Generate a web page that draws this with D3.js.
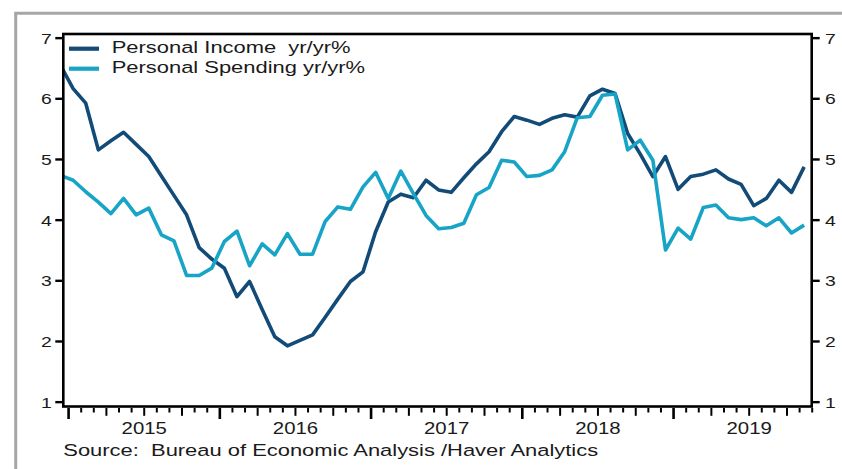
<!DOCTYPE html>
<html>
<head>
<meta charset="utf-8">
<script src="https://cdn.jsdelivr.net/npm/d3@7"></script>
<style>
  html, body { margin: 0; padding: 0; background: #fff; }
  svg { display: block; font-family: "Liberation Sans", Arial, sans-serif; }
  text { white-space: pre; fill: #1a1a1a; }
</style>
</head>
<body>
<svg id="chart" width="842" height="469"></svg>
<script>
// monthly observations, Dec 2014 .. Nov 2019
var months = d3.timeMonth.range(new Date(2014, 11, 1), new Date(2019, 11, 1));

var incomeYoY = [
    6.54, 6.16, 5.92, 5.15, 5.30, 5.44, 5.24, 5.04, 4.72, 4.40, 4.08, 3.54, 3.35,
    3.20, 2.73, 2.98, 2.52, 2.07, 1.92, 2.01, 2.10, 2.39, 2.69, 2.98, 3.14,
    3.80, 4.29, 4.42, 4.36, 4.65, 4.49, 4.45, 4.69, 4.92, 5.12, 5.45, 5.70,
    5.64, 5.57, 5.67, 5.73, 5.69, 6.04, 6.15, 6.08, 5.42, 5.08, 4.71, 5.04,
    4.50, 4.71, 4.75, 4.82, 4.67, 4.58, 4.23, 4.35, 4.65, 4.45, 4.87
];
var spendingYoY = [
    4.73, 4.65, 4.46, 4.29, 4.10, 4.35, 4.08, 4.19, 3.75, 3.65, 3.08, 3.08, 3.20,
    3.64, 3.81, 3.24, 3.60, 3.42, 3.77, 3.43, 3.43, 3.97, 4.21, 4.17, 4.54,
    4.78, 4.35, 4.80, 4.43, 4.07, 3.85, 3.87, 3.94, 4.41, 4.53, 4.98, 4.95,
    4.71, 4.73, 4.82, 5.12, 5.68, 5.70, 6.05, 6.07, 5.15, 5.31, 4.98, 3.50,
    3.86, 3.68, 4.20, 4.24, 4.03, 4.00, 4.03, 3.90, 4.03, 3.78, 3.91
];

var seriesNames = ["Personal Income  yr/yr%", "Personal Spending yr/yr%"];
var seriesColors = ["#124b78", "#17a4c7"];
var yTicks = [1, 2, 3, 4, 5, 6, 7];
var yearLabels = [2015, 2016, 2017, 2018, 2019];

(function() {
    var svg = d3.select("#chart");
    var pLeft = 63.3, pRight = 811.7, pTop = 34, pBottom = 406.5;
    var stretch = 1.29;   // the original type is set wide

    // month index: 0 = Jan 2015
    function mIndex(d) { return (d.getFullYear() - 2015) * 12 + d.getMonth(); }

    var x = d3.scaleLinear().domain([-0.38, 59]).range([pLeft, pRight]);
    var y = d3.scaleLinear().domain([0.92, 7.06]).range([pBottom, pTop]);

    // grey outer frame
    svg.append("path")
        .attr("d", "M15.7,469 L15.7,13.3 L842,13.3")
        .attr("fill", "none")
        .attr("stroke", "#a6a6a6")
        .attr("stroke-width", 3);

    svg.append("clipPath").attr("id", "plotclip")
      .append("rect")
        .attr("x", pLeft).attr("y", pTop)
        .attr("width", pRight - pLeft).attr("height", pBottom - pTop);

    var line = d3.line()
        .x(function(d) { return x(mIndex(d.date) + 0.4); })
        .y(function(d) { return y(d.value); });

    [incomeYoY, spendingYoY].forEach(function(vals, i) {
        var pts = months.map(function(m, j) { return { date: m, value: vals[j] }; });
        svg.append("path")
            .datum(pts)
            .attr("clip-path", "url(#plotclip)")
            .attr("fill", "none")
            .attr("stroke", seriesColors[i])
            .attr("stroke-width", 3.6)
            .attr("stroke-linejoin", "round")
            .attr("d", line);
    });

    // plot frame
    svg.append("rect")
        .attr("x", pLeft).attr("y", pTop)
        .attr("width", pRight - pLeft).attr("height", pBottom - pTop)
        .attr("fill", "none")
        .attr("stroke", "#000")
        .attr("stroke-width", 2.6);

    function styleY(g, dx, anchor) {
        g.select(".domain").remove();
        g.selectAll(".tick line").attr("stroke", "#000").attr("stroke-width", 2.4);
        g.selectAll(".tick text")
            .attr("x", 0).attr("dy", null)
            .attr("font-size", 15)
            .attr("fill", "#1a1a1a")
            .attr("text-anchor", anchor)
            .attr("transform", "translate(" + dx + ",5.4) scale(" + stretch + ",1)");
    }

    svg.append("g")
        .attr("transform", "translate(" + pLeft + ",0)")
        .call(d3.axisLeft(y).tickValues(yTicks).tickSize(8).tickFormat(d3.format("d")))
        .call(styleY, -11.6, "end");

    svg.append("g")
        .attr("transform", "translate(" + pRight + ",0)")
        .call(d3.axisRight(y).tickValues(yTicks).tickSize(8).tickFormat(d3.format("d")))
        .call(styleY, 13.3, "start");

    // month ticks: long at years, medium at quarters
    var xTicks = svg.append("g")
        .attr("transform", "translate(0," + (pBottom + 1.5) + ")")
        .call(d3.axisBottom(x).tickValues(d3.range(0, 60)).tickSize(0).tickFormat(""));
    xTicks.select(".domain").remove();
    xTicks.selectAll(".tick line")
        .attr("stroke", "#000")
        .attr("y1", 0)
        .attr("y2", function(d) { return d % 12 === 0 ? 11 : d % 3 === 0 ? 7.8 : 4.5; })
        .attr("stroke-width", function(d) { return d % 12 === 0 ? 2.6 : 2; });

    var xLabels = svg.append("g")
        .attr("transform", "translate(0," + pBottom + ")")
        .call(d3.axisBottom(x)
            .tickValues(yearLabels.map(function(yr) { return (yr - 2015) * 12 + 6; }))
            .tickSize(0)
            .tickFormat(function(d) { return String(2015 + Math.floor(d / 12)); }));
    xLabels.select(".domain").remove();
    xLabels.selectAll(".tick text")
        .attr("y", 0).attr("dy", null)
        .attr("font-size", 15.8)
        .attr("fill", "#1a1a1a")
        .attr("transform", "translate(0,27.5) scale(" + stretch + ",1)");

    // legend
    var legend = svg.append("g");
    seriesNames.forEach(function(name, i) {
        var ly = 48.7 + i * 20;
        legend.append("line")
            .attr("x1", 69).attr("x2", 99)
            .attr("y1", ly).attr("y2", ly)
            .attr("stroke", seriesColors[i])
            .attr("stroke-width", 4.2);
        legend.append("text")
            .attr("font-size", 17)
            .attr("transform", "translate(111.7," + (ly + 4.1) + ") scale(" + stretch + ",1)")
            .text(name);
    });

    svg.append("text")
        .attr("font-size", 17)
        .attr("transform", "translate(63.3,455.5) scale(" + stretch + ",1)")
        .text("Source:  Bureau of Economic Analysis /Haver Analytics");
})();
</script>
</body>
</html>
